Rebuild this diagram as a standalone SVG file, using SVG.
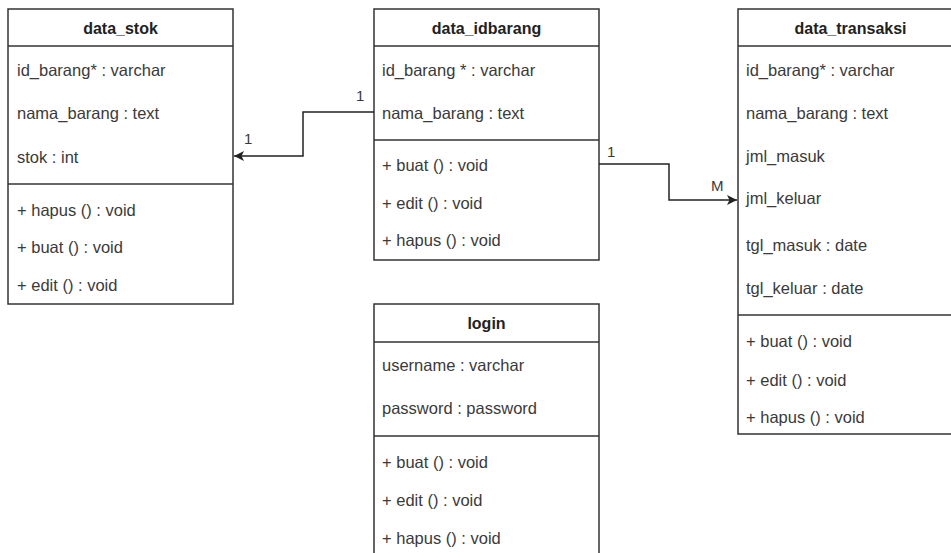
<svg xmlns="http://www.w3.org/2000/svg" width="951" height="553" viewBox="0 0 951 553">
<defs>
<style>
.box{fill:#fff;stroke:#333;stroke-width:1.5}
.ln{stroke:#333;stroke-width:1.5}
.t{font-family:"Liberation Sans",Arial,sans-serif;font-size:16.5px;fill:#3a3a3a;dominant-baseline:central}
.h{font-family:"Liberation Sans",Arial,sans-serif;font-size:16px;font-weight:bold;fill:#222;text-anchor:middle;dominant-baseline:central}
.c{fill:none;stroke:#222;stroke-width:1.5}
.lb{font-family:"Liberation Sans",Arial,sans-serif;font-size:15px;fill:#3a3a3a}
</style>
<marker id="arr" viewBox="0 0 10 10" refX="10" refY="5" markerWidth="10" markerHeight="10" markerUnits="userSpaceOnUse" orient="auto">
<path d="M0,0 L10,5 L0,10 L2.5,5 Z" fill="#222"/>
</marker>
</defs>
<rect width="951" height="553" fill="#fff"/>

<g id="data_stok">
<rect class="box" x="8" y="9" width="225" height="295"/>
<line class="ln" x1="8" y1="46" x2="233" y2="46"/>
<line class="ln" x1="8" y1="184" x2="233" y2="184"/>
<text class="h" x="120.5" y="28">data_stok</text>
<text class="t" x="17" y="70">id_barang* : varchar</text>
<text class="t" x="17" y="113">nama_barang : text</text>
<text class="t" x="17" y="157">stok : int</text>
<text class="t" x="17" y="210">+ hapus () : void</text>
<text class="t" x="17" y="247">+ buat () : void</text>
<text class="t" x="17" y="285">+ edit () : void</text>
</g>

<g id="data_idbarang">
<rect class="box" x="374" y="9" width="225" height="251"/>
<line class="ln" x1="374" y1="46" x2="599" y2="46"/>
<line class="ln" x1="374" y1="140" x2="599" y2="140"/>
<text class="h" x="486.5" y="28">data_idbarang</text>
<text class="t" x="382" y="70">id_barang * : varchar</text>
<text class="t" x="382" y="113">nama_barang : text</text>
<text class="t" x="382" y="165">+ buat () : void</text>
<text class="t" x="382" y="203">+ edit () : void</text>
<text class="t" x="382" y="240">+ hapus () : void</text>
</g>

<g id="data_transaksi">
<rect class="box" x="738" y="9" width="225" height="425"/>
<line class="ln" x1="738" y1="46" x2="963" y2="46"/>
<line class="ln" x1="738" y1="315" x2="963" y2="315"/>
<text class="h" x="850.5" y="28">data_transaksi</text>
<text class="t" x="746" y="70">id_barang* : varchar</text>
<text class="t" x="746" y="113">nama_barang : text</text>
<text class="t" x="746" y="156">jml_masuk</text>
<text class="t" x="746" y="198">jml_keluar</text>
<text class="t" x="746" y="245">tgl_masuk : date</text>
<text class="t" x="746" y="288">tgl_keluar : date</text>
<text class="t" x="746" y="341">+ buat () : void</text>
<text class="t" x="746" y="380">+ edit () : void</text>
<text class="t" x="746" y="417">+ hapus () : void</text>
</g>

<g id="login">
<rect class="box" x="374" y="304" width="225" height="260"/>
<line class="ln" x1="374" y1="342" x2="599" y2="342"/>
<line class="ln" x1="374" y1="436" x2="599" y2="436"/>
<text class="h" x="486.5" y="323">login</text>
<text class="t" x="382" y="365">username : varchar</text>
<text class="t" x="382" y="408">password : password</text>
<text class="t" x="382" y="462">+ buat () : void</text>
<text class="t" x="382" y="500">+ edit () : void</text>
<text class="t" x="382" y="538">+ hapus () : void</text>
</g>

<g id="connectors">
<path class="c" d="M374,112 H303 V156 H234" marker-end="url(#arr)"/>
<path class="c" d="M599,164 H669 V200 H737" marker-end="url(#arr)"/>
<text class="lb" x="356" y="101">1</text>
<text class="lb" x="244" y="144">1</text>
<text class="lb" x="607" y="157">1</text>
<text class="lb" x="711" y="191">M</text>
</g>
</svg>
